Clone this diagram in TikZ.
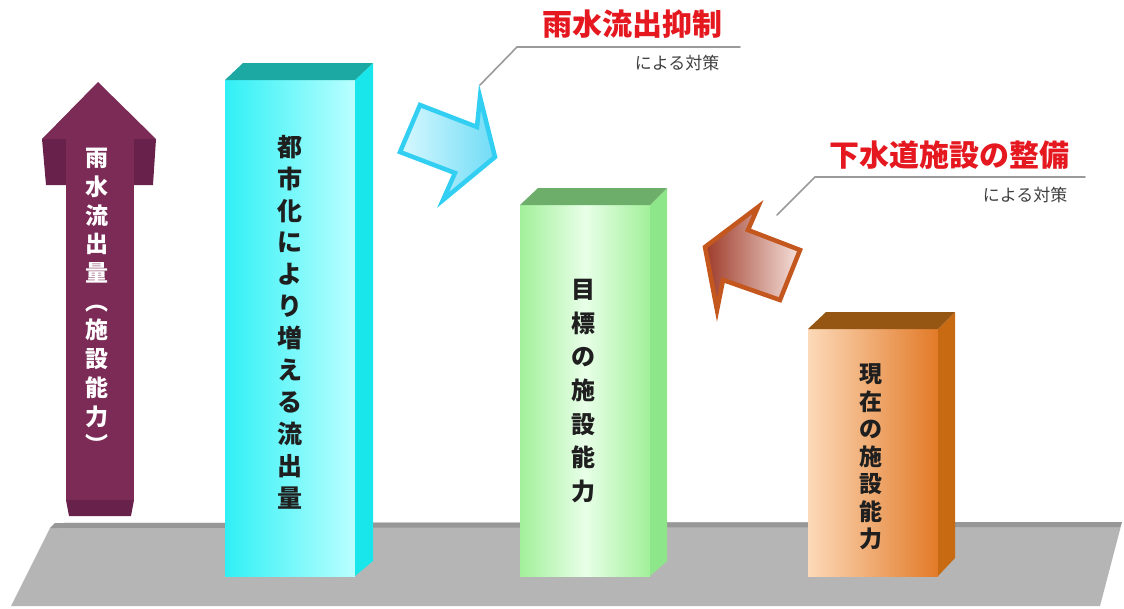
\documentclass[tikz,border=0pt]{standalone}
\usepackage{fontspec}
\usepackage{tkz-euclide}
\newfontfamily\jpfont{Noto Sans CJK JP}
\definecolor{floorgray}{HTML}{B5B5B5}
\definecolor{floordark}{HTML}{979797}
\definecolor{plum}{HTML}{7B2B56}
\definecolor{plumdark}{HTML}{67214A}
\definecolor{leadred}{HTML}{E5171F}
\definecolor{leadgray}{HTML}{9A9A9A}
\definecolor{cyanL}{HTML}{30F0F5}\definecolor{cyanR}{HTML}{BAFFFF}
\definecolor{cyanS}{HTML}{18E6EA}\definecolor{cyanT}{HTML}{1CA9A3}
\definecolor{greenL}{HTML}{A2F09A}\definecolor{greenM}{HTML}{E8FFE8}
\definecolor{greenS}{HTML}{8EE68A}\definecolor{greenT}{HTML}{6DAE6A}
\definecolor{orangeL}{HTML}{FCD9B8}\definecolor{orangeR}{HTML}{E27A28}
\definecolor{orangeS}{HTML}{C86A12}\definecolor{orangeT}{HTML}{955513}
\definecolor{bluelineC}{HTML}{33CFF2}\definecolor{blueL}{HTML}{D8F8FF}
\definecolor{blueR}{HTML}{70DCF5}
\definecolor{rustC}{HTML}{C4571E}\definecolor{rustL}{HTML}{9E3B2A}
\definecolor{rustR}{HTML}{F6E2DC}
\tikzset{
  coltext/.style={align=center, text=black!88},
  redtitle/.style={text=leadred, font=\jpfont\bfseries\fontsize{30}{32}\selectfont},
  smallnote/.style={text=black!75, font=\jpfont\fontsize{17}{20}\selectfont},
  leader/.style={leadgray, line width=1.6pt},
}
\begin{document}
\begin{tikzpicture}[x=1pt,y=-1pt]
\useasboundingbox (0,0) rectangle (1124,608);
% floor
\tkzDefPoint(11,606){fl_{1}}\tkzDefPoint(50,528){fl_{2}}
\tkzDefPoint(55,523){fl_{3}}\tkzDefPoint(1122,522){fl_{4}}
\tkzDefPoint(1120,527){fl_{5}}\tkzDefPoint(1100,606){fl_{6}}
\fill[floorgray] (fl_{1}) -- (fl_{2}) -- (fl_{3}) -- (fl_{4}) -- (fl_{6}) -- cycle;
\fill[floordark] (fl_{2}) -- (fl_{3}) -- (fl_{4}) -- (fl_{5}) -- cycle;
% rain outflow arrow
\tkzDefPoint(98,82){tip}\tkzDefPoint(42,139){headL}\tkzDefPoint(156,139){headR}
\tkzDefPoint(66,139){shaftL}\tkzDefPoint(134,139){shaftR}
\tkzDefPoint(66,185){wingL}\tkzDefPoint(134,185){wingR}
\tkzDefPoint(46,185){wingLL}\tkzDefPoint(153,185){wingRR}
\tkzDefPoint(66,500){footL}\tkzDefPoint(134,500){footR}
\tkzDefPoint(69,516){baseL}\tkzDefPoint(131,516){baseR}
\fill[plumdark] (headL) -- (shaftL) -- (wingL) -- (wingLL) -- cycle;
\fill[plumdark] (shaftR) -- (headR) -- (wingRR) -- (wingR) -- cycle;
\fill[plum] (shaftL) rectangle (footR);
\fill[plumdark] (footL) -- (footR) -- (baseR) -- (baseL) -- cycle;
\fill[plum] (tip) -- (headR) -- (headL) -- cycle;
\node[coltext, text=white, font=\jpfont\bfseries\fontsize{23}{28.7}\selectfont]
  (flow) at (97,301) {雨\\水\\流\\出\\量\\︵\\施\\設\\能\\力\\︶};
% urbanisation column
\tkzDefPoint(225,80){cA}\tkzDefPoint(355,80){cB}\tkzDefPoint(373,63){cC}
\tkzDefPoint(243,63){cD}\tkzDefPoint(355,576){cE}\tkzDefPoint(225,576){cF}
\tkzDefPoint(373,561){cG}
\shade[left color=cyanL, right color=cyanR] (cA) -- (cB) -- (cE) -- (cF) -- cycle;
\fill[cyanS] (cB) -- (cC) -- (cG) -- (cE) -- cycle;
\fill[cyanT] (cA) -- (cD) -- (cC) -- (cB) -- cycle;
\node[coltext, font=\jpfont\bfseries\fontsize{25}{31.9}\selectfont]
  (urban) at (290,322) {都\\市\\化\\に\\よ\\り\\増\\え\\る\\流\\出\\量};
% target column
\tkzDefPoint(520,205){gA}\tkzDefPoint(650,205){gB}\tkzDefPoint(667,188){gC}
\tkzDefPoint(538,188){gD}\tkzDefPoint(650,576){gE}\tkzDefPoint(520,576){gF}
\tkzDefPoint(667,561){gG}
\shade[left color=greenL, right color=greenL, middle color=greenM] (gA) -- (gB) -- (gE) -- (gF) -- cycle;
\fill[greenS] (gB) -- (gC) -- (gG) -- (gE) -- cycle;
\fill[greenT] (gA) -- (gD) -- (gC) -- (gB) -- cycle;
\node[coltext, font=\jpfont\bfseries\fontsize{24}{33.7}\selectfont]
  (target) at (583,391) {目\\標\\の\\施\\設\\能\\力};
% present column
\tkzDefPoint(808,329){oA}\tkzDefPoint(938,329){oB}\tkzDefPoint(955,312){oC}
\tkzDefPoint(826,312){oD}\tkzDefPoint(938,576){oE}\tkzDefPoint(808,576){oF}
\tkzDefPoint(955,558){oG}
\shade[left color=orangeL, right color=orangeR] (oA) -- (oB) -- (oE) -- (oF) -- cycle;
\fill[orangeS] (oB) -- (oC) -- (oG) -- (oE) -- cycle;
\fill[orangeT] (oA) -- (oD) -- (oC) -- (oB) -- cycle;
\node[coltext, font=\jpfont\bfseries\fontsize{23}{27.5}\selectfont]
  (present) at (871,457) {現\\在\\の\\施\\設\\能\\力};
% runoff control arrow
\tkzDefPoint(400,152){bA}\tkzDefPoint(420,105){bB}\tkzDefPoint(477,127){bC}
\tkzDefPoint(480,97){bD}\tkzDefPoint(495,157){bE}\tkzDefPoint(443,200){bF}
\tkzDefPoint(455,173){bG}
\shadedraw[draw=bluelineC, line width=4.5pt, line join=miter,
  left color=blueL, right color=blueR]
  (bA) -- (bB) -- (bC) -- (bD) -- (bE) -- (bF) -- (bG) -- cycle;
% sewer facility arrow
\tkzDefPoint(705,247){rA}\tkzDefPoint(758,207){rB}\tkzDefPoint(748,230){rC}
\tkzDefPoint(800,250){rD}\tkzDefPoint(780,300){rE}\tkzDefPoint(723,280){rF}
\tkzDefPoint(717,310){rG}
\shadedraw[draw=rustC, line width=4.5pt, line join=miter,
  left color=rustL, right color=rustR]
  (rA) -- (rB) -- (rC) -- (rD) -- (rE) -- (rF) -- (rG) -- cycle;
% leaders
\tkzDefPoint(480,85){lA}\tkzDefPoint(517,47){lB}\tkzDefPoint(740,47){lC}
\tkzDefPoint(777,215){mA}\tkzDefPoint(815,177){mB}\tkzDefPoint(1085,177){mC}
\tkzDrawSegments[leader](lA,lB lB,lC mA,mB mB,mC)
\node[redtitle] (control) at (632,24) {雨水流出抑制};
\node[smallnote] (controlN) at (677,63) {による対策};
\node[redtitle] (sewer) at (949,155) {下水道施設の整備};
\node[smallnote] (sewerN) at (1025,195) {による対策};
\end{tikzpicture}
\end{document}
